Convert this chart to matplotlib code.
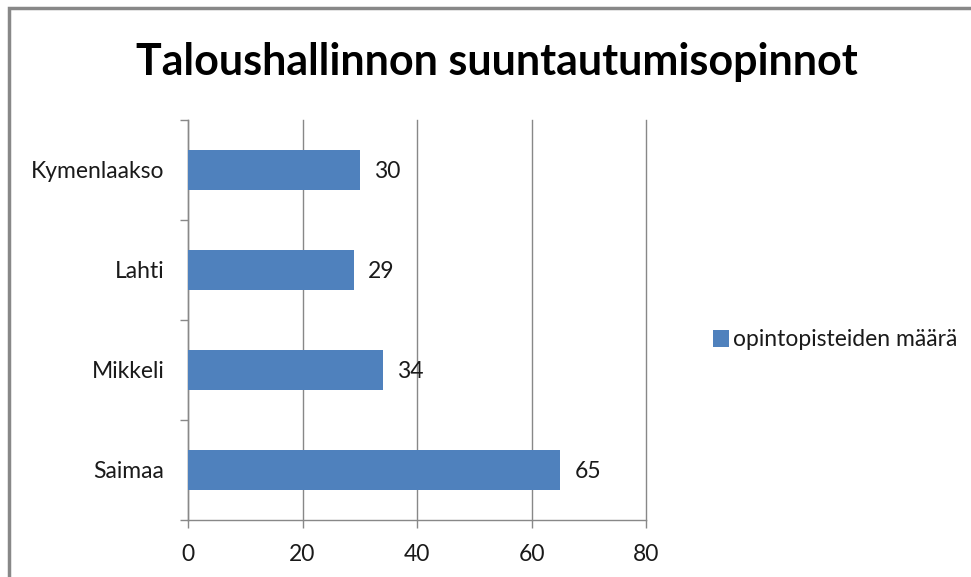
import matplotlib
matplotlib.use("Agg")
import matplotlib.pyplot as plt
from matplotlib.patches import Rectangle

categories = ["Saimaa", "Mikkeli", "Lahti", "Kymenlaakso"]
values = [65, 34, 29, 30]
xticks = [0, 20, 40, 60, 80]
title = "Taloushallinnon suuntautumisopinnot"
series_name = "opintopisteiden määrä"

plt.rcParams['font.family'] = ['Lato', 'DejaVu Sans']

W, H = 971, 577
fig = plt.figure(figsize=(W/100, H/100), dpi=100)
ax = fig.add_axes([188/W, 1-520/H, (646-188)/W, (520-120)/H])

bar_color = "#4F81BD"
txt = "#1a1a1a"
fs = 16.5
ypos = list(range(len(categories)))
ax.barh(ypos, values, height=0.4, color=bar_color, label=series_name, zorder=3)
for y, v in zip(ypos, values):
    ax.text(v + 2.5, y - 0.02, str(v), va="center", ha="left", fontsize=fs, color=txt)

ax.set_xlim(0, 80)
ax.set_ylim(-0.5, len(categories) - 0.5)
ax.set_xticks(xticks)
ax.set_xticklabels([str(t) for t in xticks], fontsize=fs, color=txt)
ax.set_yticks(ypos)
ax.set_yticklabels(categories, fontsize=fs, color=txt)
ax.tick_params(axis="y", length=0, pad=17)
ax.set_yticks([y - 0.5 for y in range(len(categories) + 1)], minor=True)
ax.tick_params(axis="y", which="minor", length=6, color="#888888", width=1)
ax.tick_params(axis="x", length=6, color="#888888", width=1, pad=11)
ax.grid(axis="x", color="#888888", linewidth=1, zorder=0)
for gl in ax.get_xgridlines():
    gl.set_clip_on(False)
for s in ["top", "right"]:
    ax.spines[s].set_visible(False)
for s in ["left", "bottom"]:
    ax.spines[s].set_color("#888888")
    ax.spines[s].set_linewidth(1)

fig.text(497/W, 1-62/H, title, ha="center", va="center", fontsize=31, fontweight="bold", color="black")

leg = fig.legend(loc="center left", bbox_to_anchor=(692/W, 1-340/H), frameon=False,
                 fontsize=fs, handlelength=0.7, handleheight=0.7, handletextpad=0.2,
                 labelcolor=txt)

fig.patches.append(Rectangle((9/W, -0.1), 1.2, 1-8/H + 0.1, transform=fig.transFigure,
                             fill=False, edgecolor="#888888", linewidth=2.5))

fig.savefig("out.png", dpi=100)
